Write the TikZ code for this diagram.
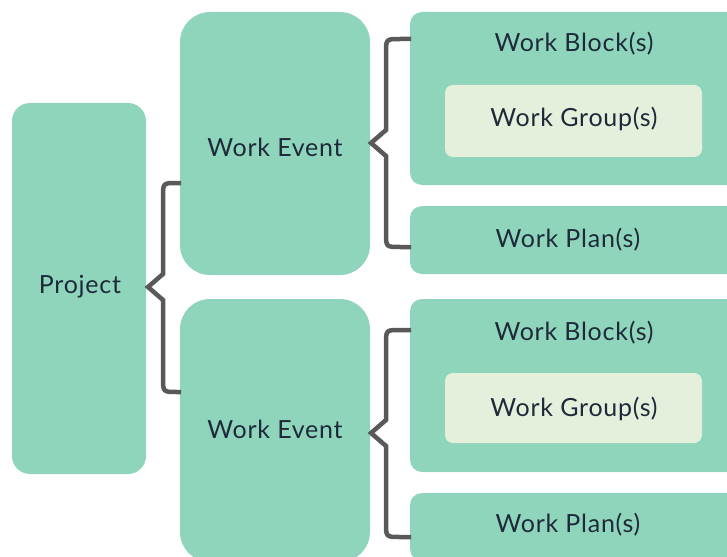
\documentclass[tikz,border=0pt]{standalone}
\usepackage{fontspec}
\setmainfont{Lato}[LetterSpace=3]
\definecolor{boxteal}{HTML}{8FD5BC}
\definecolor{boxlight}{HTML}{E4F0DC}
\definecolor{bracegray}{HTML}{595959}
\definecolor{txt}{HTML}{1E2A3A}
\tikzset{
  tealbox/.style={fill=boxteal, draw=none, inner sep=0pt},
  lightbox/.style={fill=boxlight, draw=none, inner sep=0pt, rounded corners=8pt},
  lbl/.style={text=txt, font=\fontsize{25}{28}\selectfont, inner sep=0pt, anchor=base},
  bracestyle/.style={draw=bracegray, line width=4.5pt, line join=miter, line cap=butt}
}
% #1 tip y, #2 vertical x, #3 top y, #4 bottom y, #5 end x
\newcommand{\mybrace}[5]{%
  \draw[bracestyle] (#5,#3) -- ({#2+14},#3) .. controls (#2,#3) .. (#2,{#3+14})
    -- (#2,{#1-13}) -- ({#2-15},#1) -- (#2,{#1+13})
    -- (#2,{#4-14}) .. controls (#2,#4) .. ({#2+14},#4) -- (#5,#4);}
\begin{document}
\begin{tikzpicture}[x=1pt,y=-1pt]
\useasboundingbox (0,0) rectangle (727,556);
\clip (0,0) rectangle (727,556);
% boxes
\node[tealbox, rounded corners=18pt, minimum width=134pt, minimum height=371pt] (proj) at (79,288.5) {};
\node[tealbox, rounded corners=30pt, minimum width=190pt, minimum height=263pt] (we1) at (275,143.5) {};
\node[tealbox, rounded corners=30pt, minimum width=190pt, minimum height=263pt] (we2) at (275,430.5) {};
\node[tealbox, rounded corners=12pt, minimum width=330pt, minimum height=173pt] (wb1) at (575,98.5) {};
\node[tealbox, rounded corners=12pt, minimum width=330pt, minimum height=68pt] (wp1) at (575,240) {};
\node[tealbox, rounded corners=12pt, minimum width=330pt, minimum height=173pt] (wb2) at (575,385.5) {};
\node[tealbox, rounded corners=12pt, minimum width=330pt, minimum height=68pt] (wp2) at (575,527) {};
\node[lightbox, minimum width=257pt, minimum height=72pt] (wg1) at (573.5,121) {};
\node[lightbox, minimum width=257pt, minimum height=70pt] (wg2) at (573.5,408) {};
% labels
\node[lbl] (tproj) at (80,293) {Project};
\node[lbl] (twe1) at (275,157) {Work Event};
\node[lbl] (twe2) at (275,438) {Work Event};
\node[lbl] (twb1) at (574,52) {Work Block(s)};
\node[lbl] (twg1) at (574,127) {Work Group(s)};
\node[lbl] (twp1) at (568,247) {Work Plan(s)};
\node[lbl] (twb2) at (574,340) {Work Block(s)};
\node[lbl] (twg2) at (574,416) {Work Group(s)};
\node[lbl] (twp2) at (568,532) {Work Plan(s)};
% braces
\mybrace{287}{163}{183}{392}{181}
\mybrace{143}{386}{39}{247}{411}
\mybrace{433}{386}{330}{537}{411}
\end{tikzpicture}
\end{document}
